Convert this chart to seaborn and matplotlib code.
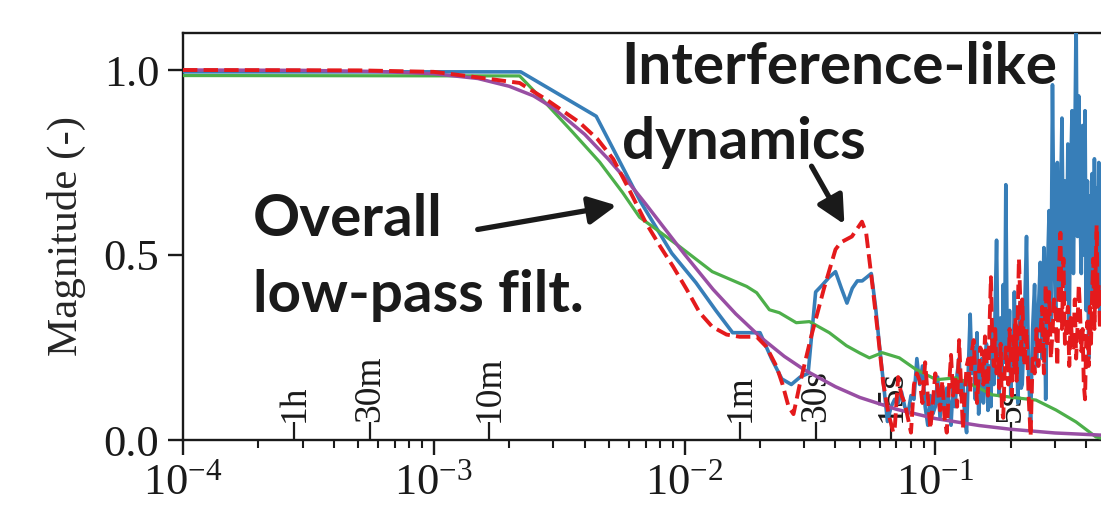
import numpy as np
import matplotlib
matplotlib.use("Agg")
import matplotlib.pyplot as plt
import seaborn as sns
import pandas as pd

# ---------------- data ----------------
DF = 1.0 / 450.0  # FFT bin width (Hz)

# measured (blue) low-frequency part: bins 1..30
blue_low_bins = list(range(1, 31))
blue_low = [0.995, 0.875, 0.645, 0.505, 0.425, 0.35, 0.29, 0.29, 0.29, 0.22,
            0.165, 0.15, 0.17, 0.18, 0.40, 0.42, 0.44, 0.455, 0.41, 0.37,
            0.41, 0.43, 0.43, 0.44, 0.45, 0.36, 0.25, 0.15, 0.05, 0.09]
blue_start = 0.995

# noisy part: bins 31..99 every bin, 100..206 every second bin
noise_bins = list(range(31, 100)) + list(range(100, 207, 2))
blue_noise = [0.11, 0.10, 0.13, 0.09, 0.07, 0.12, 0.11, 0.22, 0.15, 0.20,
              0.09, 0.04, 0.12, 0.07, 0.09, 0.17, 0.06, 0.14, 0.08, 0.14,
              0.10, 0.04, 0.15, 0.09, 0.18, 0.22, 0.12, 0.16, 0.06, 0.02,
              0.20, 0.34, 0.18, 0.25, 0.11, 0.29, 0.07, 0.14, 0.22, 0.10,
              0.17, 0.26, 0.08, 0.20, 0.09, 0.31, 0.15, 0.36, 0.54, 0.24,
              0.12, 0.33, 0.18, 0.42, 0.21, 0.69, 0.30, 0.20, 0.35, 0.12,
              0.27, 0.18, 0.40, 0.22, 0.29, 0.10, 0.26, 0.37, 0.14,
              0.15, 0.32, 0.55, 0.18, 0.05, 0.30, 0.42, 0.20, 0.35, 0.48,
              0.22, 0.52, 0.11, 0.45, 0.62, 0.30, 0.96, 0.50, 0.33, 0.75,
              0.40, 0.62, 0.87, 0.45, 0.70, 0.38, 0.80, 0.30, 0.72, 0.89,
              0.45, 0.78, 1.15, 0.55, 0.93, 0.62, 0.45, 0.85, 0.50, 0.89,
              0.35, 0.70, 0.22, 0.66, 0.45, 0.72, 0.40, 0.76, 0.52, 0.68,
              0.38, 0.75, 0.32, 0.60]
red_noise = [0.03, 0.17, 0.12, 0.10, 0.06, 0.02, 0.15, 0.18, 0.16, 0.10,
             0.21, 0.12, 0.03, 0.10, 0.18, 0.14, 0.08, 0.16, 0.06, 0.02,
             0.14, 0.23, 0.12, 0.17, 0.09, 0.27, 0.15, 0.03, 0.12, 0.20,
             0.22, 0.13, 0.24, 0.27, 0.18, 0.10, 0.17, 0.25, 0.24, 0.15,
             0.28, 0.20, 0.12, 0.30, 0.44, 0.25, 0.20, 0.30, 0.18, 0.22,
             0.14, 0.26, 0.08, 0.06, 0.18, 0.25, 0.20, 0.15, 0.30, 0.22,
             0.12, 0.28, 0.20, 0.33, 0.16, 0.35, 0.49, 0.40, 0.22,
             0.38, 0.20, 0.30, 0.12, 0.01, 0.22, 0.18, 0.30, 0.20, 0.28,
             0.36, 0.18, 0.42, 0.25, 0.40, 0.22, 0.29, 0.38, 0.33, 0.20,
             0.45, 0.56, 0.30, 0.49, 0.26, 0.31, 0.36, 0.20, 0.33, 0.27,
             0.25, 0.38, 0.22, 0.30, 0.42, 0.35, 0.24, 0.30, 0.15, 0.11,
             0.28, 0.32, 0.20, 0.36, 0.26, 0.40, 0.49, 0.30, 0.45, 0.58,
             0.36, 0.42, 0.30, 0.38]

# model with interference (red dashed) smooth part
red_low_freq = [1e-4, 5e-4, 1e-3, 1.5e-3, 2.2e-3, 2.8e-3, 3.8e-3, 4.5e-3, 5.2e-3,
                6.0e-3, 7.0e-3, 8.0e-3, 9.0e-3, 1.02e-2, 1.15e-2, 1.29e-2,
                1.47e-2, 1.66e-2, 1.94e-2, 2.12e-2, 2.33e-2, 2.46e-2, 2.6e-2,
                2.72e-2, 2.88e-2, 3.2e-2, 3.6e-2, 4.0e-2, 4.2e-2, 4.65e-2,
                5.1e-2, 5.3e-2, 5.6e-2, 5.9e-2, 6.2e-2, 6.5e-2, 6.8e-2]
red_low = [1.0, 0.999, 0.995, 0.980, 0.965, 0.921, 0.859, 0.813, 0.759,
           0.678, 0.588, 0.523, 0.469, 0.407, 0.344, 0.306, 0.285, 0.279,
           0.279, 0.252, 0.198, 0.15, 0.09, 0.07, 0.15, 0.28, 0.41, 0.515,
           0.534, 0.55, 0.59, 0.56, 0.425, 0.29, 0.154, 0.073, 0.02]

# smoothed response (green)
green_freq = [1e-4, 2.2e-3, 2.82e-3, 3.58e-3, 4.59e-3, 5.66e-3, 6.62e-3, 7.73e-3,
              9.55e-3, 1.29e-2, 1.77e-2, 1.94e-2, 2.18e-2, 2.39e-2, 2.79e-2,
              3.15e-2, 3.78e-2, 4.42e-2, 5.0e-2, 5.46e-2, 6.15e-2, 7.19e-2,
              8.40e-2, 0.101, 0.121, 0.146, 0.169, 0.210, 0.252, 0.303, 0.364,
              0.438, 0.5]
green = [0.985, 0.984, 0.908, 0.832, 0.751, 0.669, 0.602, 0.569, 0.523, 0.455,
         0.415, 0.398, 0.352, 0.344, 0.317, 0.320, 0.290, 0.255, 0.235, 0.222,
         0.236, 0.222, 0.190, 0.163, 0.168, 0.144, 0.122, 0.114, 0.108, 0.081,
         0.049, 0.008, 0.0]

# overall low-pass filter (purple)
purple_freq = [1e-4, 3e-4, 6e-4, 1e-3, 1.5e-3, 2e-3, 2.5e-3, 3e-3, 4e-3, 5e-3,
               6e-3, 7e-3, 8e-3, 1e-2, 1.3e-2, 1.6e-2, 2e-2, 2.5e-2, 3e-2, 4e-2,
               5e-2, 7e-2, 0.1, 0.15, 0.2, 0.3, 0.5]
purple = [1.0, 0.999, 0.996, 0.99, 0.977, 0.956, 0.93, 0.897, 0.826, 0.757,
          0.695, 0.638, 0.587, 0.502, 0.407, 0.341, 0.279, 0.226, 0.190,
          0.144, 0.115, 0.083, 0.058, 0.039, 0.029, 0.019, 0.012]

# period markers
period_labels = ["1h", "30m", "10m", "1m", "30s", "15s", "5s"]
period_seconds = [3600, 1800, 600, 60, 30, 15, 5]

# ---------------- assemble ----------------
blue_freq = [1e-4] + [b * DF for b in blue_low_bins] + [b * DF for b in noise_bins]
blue_vals = [blue_start] + blue_low + blue_noise
red_freq = red_low_freq + [b * DF for b in noise_bins]
red_vals = red_low + red_noise

df_blue = pd.DataFrame({"f": blue_freq, "m": blue_vals})
df_red = pd.DataFrame({"f": red_freq, "m": red_vals})
df_green = pd.DataFrame({"f": green_freq, "m": green})
df_purple = pd.DataFrame({"f": purple_freq, "m": purple})

sns.set_theme(style="ticks")
plt.rcParams["font.family"] = ["Liberation Serif", "DejaVu Serif"]
plt.rcParams["mathtext.fontset"] = "stix"

W, H = 1101, 509
fig = plt.figure(figsize=(W / 100, H / 100), dpi=100)
ax = fig.add_axes([183 / W, (H - 440) / H, (W - 183) / W, (440 - 33) / H])

c_blue, c_red, c_green, c_purple = "#377eb8", "#e41a1c", "#4daf4a", "#984ea3"
sns.lineplot(data=df_blue, x="f", y="m", ax=ax, color=c_blue, lw=2.6,
             estimator=None, sort=False, zorder=3)
sns.lineplot(data=df_green, x="f", y="m", ax=ax, color=c_green, lw=2.3,
             estimator=None, sort=False, zorder=3)
sns.lineplot(data=df_purple, x="f", y="m", ax=ax, color=c_purple, lw=2.5,
             estimator=None, sort=False, zorder=3)
sns.lineplot(data=df_red, x="f", y="m", ax=ax, color=c_red, lw=2.8,
             linestyle="--", estimator=None, sort=False, zorder=4)

ax.set_xscale("log")
ax.set_xlim(1e-4, 0.458)
ax.set_ylim(0, 1.1)
ax.set_yticks([0.0, 0.5, 1.0])
ax.set_yticklabels(["0.0", "0.5", "1.0"])
ax.set_xlabel("")
ax.set_ylabel("Magnitude (-)", fontsize=31)
ax.yaxis.set_label_coords(-0.106, 0.5)
ax.xaxis.set_major_locator(matplotlib.ticker.LogLocator(base=10, numticks=10))
ax.xaxis.set_minor_locator(matplotlib.ticker.LogLocator(base=10, subs=np.arange(2, 10), numticks=20))
ax.xaxis.set_minor_formatter(matplotlib.ticker.NullFormatter())

ax.tick_params(axis="both", which="major", length=11, width=1.7,
               color="k", labelcolor="k", direction="out")
ax.tick_params(axis="x", which="major", pad=6, labelsize=32)
ax.tick_params(axis="y", which="major", pad=6, labelsize=32)
ax.tick_params(axis="x", which="minor", length=6, width=1.5, color="k")
for s in ["left", "bottom", "top"]:
    ax.spines[s].set_linewidth(1.7)
    ax.spines[s].set_color("k")
ax.spines["right"].set_visible(False)

# period markers
period_freq = [1.0 / s for s in period_seconds]
ax.vlines(period_freq, 0, 0.049, color="k", lw=1.6, zorder=2)
for lab, f in zip(period_labels, period_freq):
    ax.text(f, 0.049, lab, rotation=90, ha="center", va="bottom",
            fontsize=27, color="k", zorder=2)

# annotations
bold = dict(family=["Lato", "DejaVu Sans"], fontweight="bold", fontsize=42,
            color="k", zorder=6)
ax.text(1.90e-4, 0.550, "Overall", **bold)
ax.text(1.90e-4, 0.347, "low-pass filt.", **bold)
ax.text(5.61e-3, 0.962, "Interference-like", **bold)
ax.text(5.61e-3, 0.759, "dynamics", **bold)

arrow = dict(arrowstyle="-|>", color="k", lw=3.8, mutation_scale=42,
             shrinkA=0, shrinkB=0)
ax.annotate("", xy=(5.36e-3, 0.634), xytext=(1.497e-3, 0.569),
            arrowprops=arrow, zorder=6)
ax.annotate("", xy=(0.0434, 0.583), xytext=(0.0321, 0.740),
            arrowprops=arrow, zorder=6)

fig.savefig("out.png", dpi=100)
